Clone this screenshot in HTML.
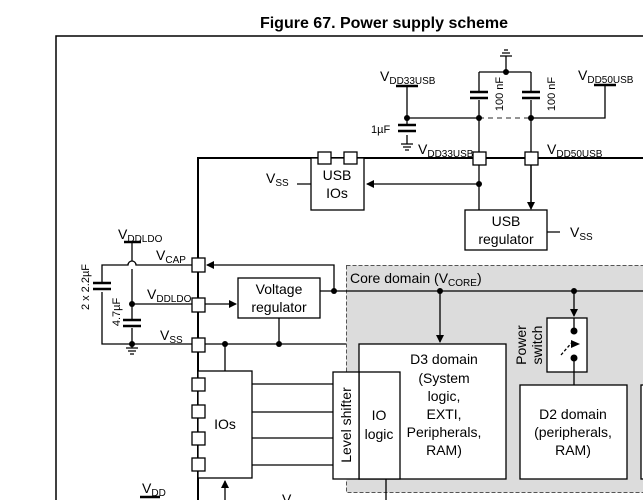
<!DOCTYPE html>
<html><head><style>
body{margin:0;background:#fff}
svg{display:block;font-family:"Liberation Sans",Arial,sans-serif}
</style></head><body>
<svg width="643" height="500" viewBox="0 0 643 500" xmlns="http://www.w3.org/2000/svg">
<defs>
<marker id="a" markerWidth="8" markerHeight="8" refX="7" refY="4" orient="auto" markerUnits="userSpaceOnUse"><path d="M0,0 L8,4 L0,8 z" fill="#000"/></marker>
</defs>
<text x="384" y="28" text-anchor="middle" font-size="16" font-weight="bold">Figure 67. Power supply scheme</text>
<path d="M56,500 V36 H643" fill="none" stroke="#000" stroke-width="1.5"/>
<rect x="346.5" y="265.5" width="300" height="227" fill="#dcdcdc" stroke="#555" stroke-dasharray="4,2"/>
<text x="350" y="283" font-size="14">Core domain (V<tspan font-size="10" dy="3">CORE</tspan><tspan dy="-3">)</tspan></text>
<g stroke="#000" fill="none" stroke-width="1.3">
<path d="M198,500 V158 H643" stroke-width="2"/>
<path d="M407,86 V118 H479"/>
<path d="M479,118 H531" stroke-dasharray="5,4" stroke="#555"/>
<path d="M531,118 H605 V85"/>
<path d="M407,118 V125 M407,135 V144"/>
<path d="M479,72 H531 M479,72 V92 M479,100 V250 M531,72 V92 M531,100 V208"/>
<path d="M506,72 V56"/>
<path d="M479,184 H367" marker-end="url(#a)"/>
<path d="M531,164 V209" marker-end="url(#a)"/>
<path d="M547,232 H560 M297,184 H311"/>
<path d="M102,283 V265 H128 A4,4 0 0 1 136,265 H192"/>
<path d="M102,292 V344 H192"/>
<path d="M132,242 V261 M132,269 V320 M132,328 V348"/>
<path d="M132,304 H192"/>
<path d="M205,304 H236" marker-end="url(#a)"/>
<path d="M320,291 H643"/>
<path d="M334,291 V265 H207" marker-end="url(#a)"/>
<path d="M205,344 H346"/>
<path d="M279,318 V344 M225,344 V371"/>
<path d="M440,291 V342" marker-end="url(#a)"/>
<path d="M574,291 V316" marker-end="url(#a)"/>
<path d="M574,372 V385"/>
<path d="M252,384 H333 M252,412 H333 M252,438 H333 M252,465 H333"/>
<path d="M225,500 V481" marker-end="url(#a)"/>
<path d="M386,479 V500"/>
</g>
<g stroke="#000" stroke-width="2.5">
<path d="M396,86 H418 M594,85 H616 M124,242 H141 M140,497 H160"/>
<path d="M398,125 H416 M398,131 H416 M470,92 H488 M470,98 H488 M522,92 H540 M522,98 H540 M93,283 H111 M93,289 H111 M123,320 H141 M123,326 H141"/>
</g>
<g stroke="#000" stroke-width="1.2">
<path d="M401,144 H413 M403,147 H411 M405,150 H409"/>
<path d="M126,348 H138 M128,351 H136 M130,354 H134"/>
<path d="M500,56 H512 M502,53 H510 M504,50 H508"/>
</g>
<g fill="#000">
<circle cx="407" cy="118" r="3"/><circle cx="479" cy="118" r="3"/><circle cx="531" cy="118" r="3"/>
<circle cx="506" cy="72" r="3"/><circle cx="479" cy="184" r="3"/>
<circle cx="132" cy="304" r="3"/><circle cx="132" cy="344" r="3"/>
<circle cx="334" cy="291" r="3"/><circle cx="225" cy="344" r="3"/><circle cx="279" cy="344" r="3"/>
<circle cx="440" cy="291" r="3"/><circle cx="574" cy="291" r="3"/>
</g>
<g fill="#fff" stroke="#000" stroke-width="1.3">
<rect x="311" y="158" width="53" height="52"/>
<rect x="465" y="210" width="82" height="40"/>
<rect x="238" y="278" width="82" height="40"/>
<rect x="198" y="371" width="54" height="107"/>
<rect x="359" y="344" width="147" height="135"/>
<rect x="359" y="372" width="41" height="107"/>
<rect x="333" y="372" width="26" height="107"/>
<rect x="547" y="318" width="40" height="54"/>
<rect x="520" y="385" width="107" height="94"/>
<rect x="641" y="385" width="10" height="94"/>
<rect x="318" y="152" width="13" height="12"/><rect x="344" y="152" width="13" height="12"/>
<rect x="473" y="152" width="13" height="13"/><rect x="525" y="152" width="13" height="13"/>
<rect x="192" y="258" width="13" height="14"/><rect x="192" y="298" width="13" height="14"/><rect x="192" y="338" width="13" height="14"/>
<rect x="192" y="378" width="13" height="13"/><rect x="192" y="405" width="13" height="13"/><rect x="192" y="432" width="13" height="13"/><rect x="192" y="458" width="13" height="13"/>
</g>
<g stroke="#000" fill="none" stroke-width="1.3">
<path d="M574,318 V331 M574,358 V372"/>
<path d="M561,355 L574,340" stroke-dasharray="3,2"/>
</g>
<g fill="#000">
<circle cx="574" cy="331" r="3.5"/><circle cx="574" cy="358" r="3.5"/>
<path d="M571,340 L580,344 L571,348 z"/>
</g>
<g font-size="14">
<text x="337" y="180" text-anchor="middle">USB</text><text x="337" y="198" text-anchor="middle">IOs</text>
<text x="506" y="226" text-anchor="middle">USB</text><text x="506" y="244" text-anchor="middle">regulator</text>
<text x="279" y="294" text-anchor="middle">Voltage</text><text x="279" y="312" text-anchor="middle">regulator</text>
<text x="225" y="429" text-anchor="middle">IOs</text>
<text x="379" y="420" text-anchor="middle">IO</text><text x="379" y="439" text-anchor="middle">logic</text>
<g text-anchor="middle"><text x="444" y="364">D3 domain</text><text x="444" y="383">(System</text><text x="444" y="401">logic,</text><text x="444" y="419">EXTI,</text><text x="444" y="437">Peripherals,</text><text x="444" y="455">RAM)</text></g>
<g text-anchor="middle"><text x="573" y="419">D2 domain</text><text x="573" y="437">(peripherals,</text><text x="573" y="455">RAM)</text></g>
<text transform="translate(351,425) rotate(-90)" text-anchor="middle">Level shifter</text>
<text transform="translate(526,345) rotate(-90)" text-anchor="middle">Power</text>
<text transform="translate(542,345) rotate(-90)" text-anchor="middle">switch</text>
<text x="380" y="81">V<tspan font-size="10" dy="3">DD33USB</tspan></text>
<text x="578" y="80">V<tspan font-size="10" dy="3">DD50USB</tspan></text>
<text x="418" y="154">V<tspan font-size="10" dy="3">DD33USB</tspan></text>
<text x="547" y="154">V<tspan font-size="10" dy="3">DD50USB</tspan></text>
<text x="266" y="183">V<tspan font-size="10" dy="3">SS</tspan></text>
<text x="570" y="237">V<tspan font-size="10" dy="3">SS</tspan></text>
<text x="118" y="239">V<tspan font-size="10" dy="3">DDLDO</tspan></text>
<text x="156" y="260">V<tspan font-size="10" dy="3">CAP</tspan></text>
<text x="147" y="299">V<tspan font-size="10" dy="3">DDLDO</tspan></text>
<text x="160" y="340">V<tspan font-size="10" dy="3">SS</tspan></text>
<text x="142" y="493">V<tspan font-size="10" dy="3">DD</tspan></text>
<text x="282" y="504">V<tspan font-size="10" dy="3">SS</tspan></text>
</g>
<g font-size="11">
<text x="371" y="133">1µF</text>
<text transform="translate(503,94) rotate(-90)" text-anchor="middle">100 nF</text>
<text transform="translate(555,94) rotate(-90)" text-anchor="middle">100 nF</text>
<text transform="translate(89,287) rotate(-90)" text-anchor="middle">2 x 2.2µF</text>
<text transform="translate(120,312) rotate(-90)" text-anchor="middle">4.7µF</text>
</g>
</svg>
</body></html>
